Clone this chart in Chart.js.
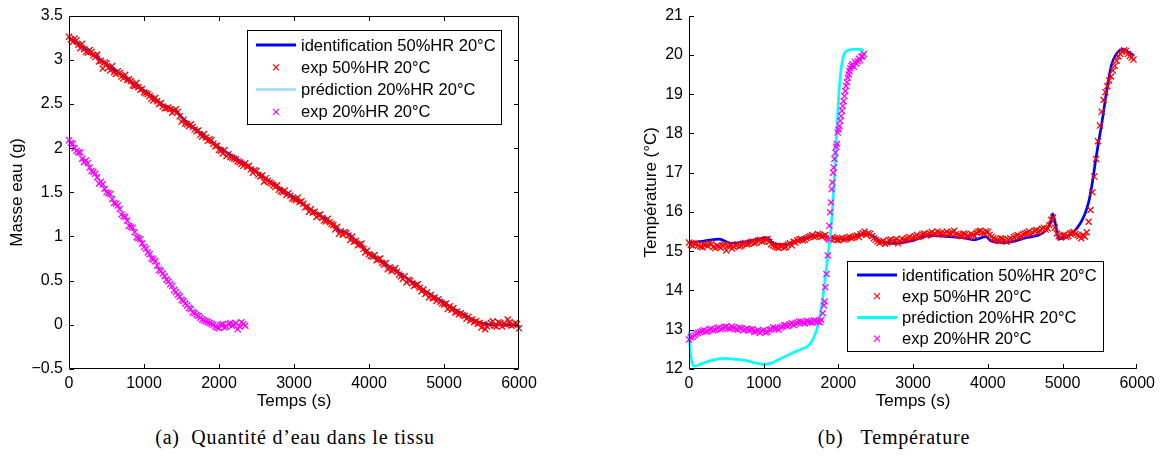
<!DOCTYPE html>
<html><head><meta charset="utf-8">
<script src="https://cdn.jsdelivr.net/npm/chart.js@4.4.1/dist/chart.umd.min.js"></script>
<style>
html,body{margin:0;padding:0;background:#fff;width:1160px;height:461px;overflow:hidden;position:relative}
canvas{position:absolute;top:0}
#c1{left:0}
#c2{left:600px}
.cap{position:absolute;font-family:"Liberation Serif","DejaVu Serif",serif;font-size:20px;letter-spacing:0.8px;color:#000;white-space:pre;transform:translate(-50%,-50%)}
</style></head><body>
<canvas id="c1" width="560" height="420"></canvas>
<canvas id="c2" width="560" height="420"></canvas>
<div class="cap" style="left:295px;top:437px">(a)  Quantité d’eau dans le tissu</div>
<div class="cap" style="left:894px;top:437px">(b)   Température</div>
<script>
// ---------- labels ----------
const legendLabels = ['identification 50%HR 20°C','exp 50%HR 20°C','prédiction 20%HR 20°C','exp 20%HR 20°C'];
const xTickValues = [0,1000,2000,3000,4000,5000,6000];
const xTickLabels = ['0','1000','2000','3000','4000','5000','6000'];
const leftYTickValues = [-0.5,0,0.5,1,1.5,2,2.5,3,3.5];
const leftYTickLabels = ['\u22120.5','0','0.5','1','1.5','2','2.5','3','3.5'];
const rightYTickValues = [12,13,14,15,16,17,18,19,20,21];
const rightYTickLabels = ['12','13','14','15','16','17','18','19','20','21'];

// ---------- sample times (s) ----------
const t50 = [0,50,100,150,200,250,300,350,400,450,500,550,600,650,700,750,800,850,900,950,
1000,1050,1100,1150,1200,1250,1300,1350,1400,1450,1500,1550,1600,1650,1700,1750,1800,1850,1900,1950,
2000,2050,2100,2150,2200,2250,2300,2350,2400,2450,2500,2550,2600,2650,2700,2750,2800,2850,2900,2950,
3000,3050,3100,3150,3200,3250,3300,3350,3400,3450,3500,3550,3600,3650,3700,3750,3800,3850,3900,3950,
4000,4050,4100,4150,4200,4250,4300,4350,4400,4450,4500,4550,4600,4650,4700,4750,4800,4850,4900,4950,
5000,5050,5100,5150,5200,5250,5300,5350,5400,5450,5500,5550,5600,5650,5700,5750,5800,5850,5900,5950,6000];
const t50mid = [25,75,125,175,225,275,325,375,425,475,525,575,625,675,725,775,825,875,925,975,
1025,1075,1125,1175,1225,1275,1325,1375,1425,1475,1525,1575,1625,1675,1725,1775,1825,1875,1925,1975,
2025,2075,2125,2175,2225,2275,2325,2375,2425,2475,2525,2575,2625,2675,2725,2775,2825,2875,2925,2975,
3025,3075,3125,3175,3225,3275,3325,3375,3425,3475,3525,3575,3625,3675,3725,3775,3825,3875,3925,3975,
4025,4075,4125,4175,4225,4275,4325,4375,4425,4475,4525,4575,4625,4675,4725,4775,4825,4875,4925,4975,
5025,5075,5125,5175,5225,5275,5325,5375,5425,5475,5525,5575,5625,5675,5725,5775,5825,5875,5925,5975];

// ---------- (a) water mass (g) ----------
const massIdT = [0,250,500,750,1000,1250,1450,1500,1750,2000,2250,2500,2750,3000,3250,3500,3600,3700,3750,4000,4250,4500,4750,5000,5250,5500,5650,5800,6000];
const massIdV = [3.25,3.10,2.95,2.80,2.65,2.49,2.40,2.35,2.17,2.01,1.87,1.73,1.58,1.44,1.29,1.15,1.07,1.04,1.01,0.81,0.67,0.53,0.38,0.25,0.12,0.02,0.00,0.00,0.00];
const massExp50V = [3.26,3.20,3.22,3.13,3.12,3.08,3.09,3.03,2.98,2.90,
2.96,2.88,2.86,2.87,2.81,2.83,2.78,2.71,2.74,2.66,
2.63,2.61,2.56,2.57,2.50,2.47,2.45,2.44,2.42,2.41,
2.30,2.28,2.25,2.24,2.19,2.15,2.16,2.08,2.09,2.02,
1.98,1.94,1.91,1.90,1.88,1.85,1.82,1.83,1.80,1.72,
1.74,1.68,1.62,1.63,1.60,1.56,1.53,1.50,1.47,1.46,
1.42,1.44,1.40,1.33,1.28,1.27,1.22,1.25,1.18,1.20,
1.14,1.08,1.03,1.02,1.04,0.96,0.94,0.90,0.92,0.82,
0.80,0.77,0.73,0.75,0.68,0.63,0.61,0.64,0.57,0.52,
0.48,0.50,0.44,0.46,0.38,0.35,0.31,0.30,0.27,0.26,
0.23,0.18,0.17,0.14,0.12,0.11,0.07,0.05,0.03,0.01,
-0.03,-0.05,0.00,0.04,-0.02,0.02,0.01,0.06,-0.01,0.02,
-0.04];
const massExp50MidV = [3.23,3.24,3.17,3.18,3.09,3.11,3.05,3.06,2.99,2.97,
2.91,2.93,2.84,2.85,2.79,2.77,2.76,2.70,2.69,2.67,
2.62,2.59,2.54,2.53,2.51,2.45,2.46,2.40,2.44,2.36,
2.32,2.27,2.27,2.21,2.20,2.13,2.12,2.10,2.05,2.03,
1.97,1.98,1.93,1.89,1.87,1.84,1.80,1.79,1.76,1.75,
1.70,1.69,1.66,1.61,1.58,1.58,1.51,1.52,1.49,1.43,
1.41,1.39,1.37,1.34,1.31,1.28,1.24,1.21,1.17,1.16,
1.13,1.11,1.06,1.05,1.01,1.00,0.95,0.91,0.86,0.84,
0.78,0.79,0.74,0.70,0.70,0.65,0.62,0.60,0.55,0.55,
0.51,0.47,0.45,0.42,0.40,0.37,0.34,0.31,0.29,0.24,
0.24,0.21,0.19,0.15,0.13,0.10,0.09,0.06,0.04,0.02,
0.01,-0.02,0.02,-0.01,0.03,-0.02,0.00,0.03,0.00,0.01];
const massPredT = [0,500,1000,1200,1400,1500,1600,1700,1800,1900,2000,2100,2350];
const massPredV = [2.08,1.53,0.92,0.69,0.46,0.35,0.25,0.16,0.09,0.04,0.01,0.00,0.00];
const massExp20V = [2.09,2.05,1.97,1.95,1.84,1.83,1.74,1.71,1.60,1.59,
1.50,1.48,1.38,1.35,1.25,1.22,1.12,1.10,0.99,0.97,
0.88,0.82,0.75,0.72,0.62,0.58,0.51,0.46,0.39,0.34,
0.28,0.24,0.19,0.14,0.11,0.08,0.05,0.03,0.01,-0.02,
-0.04,0.01,-0.02,0.02,0.00,-0.05,0.03,-0.01];
const massExp20MidV = [2.06,2.00,1.95,1.88,1.86,1.78,1.73,1.67,1.62,1.54,
1.49,1.42,1.37,1.31,1.23,1.18,1.11,1.05,0.98,0.92,
0.86,0.80,0.74,0.67,0.61,0.55,0.49,0.44,0.37,0.32,
0.27,0.22,0.18,0.13,0.10,0.06,0.04,0.02,0.00,-0.03,
0.00,-0.03,0.01,-0.01,0.02,-0.02,0.01];

// ---------- (b) temperature (°C) ----------
const tempIdT = [0,200,403,563,750,930,1044,1136,1296,1525,1708,1846,2075,2395,2579,2762,2991,3220,3495,3678,
3815,3975,4044,4227,4502,4777,4846,4869,4914,4951,5052,5143,5235,5300,5350,5400,5436,5480,5524,5591,
5658,5720,5814,5880,5947];
const tempIdV = [15.22,15.26,15.31,15.20,15.24,15.31,15.34,15.19,15.17,15.31,15.40,15.36,15.31,15.44,15.23,15.20,15.27,15.40,15.37,15.34,
15.29,15.37,15.26,15.22,15.34,15.53,15.78,15.95,15.61,15.31,15.36,15.48,15.70,15.95,16.25,16.75,17.22,17.75,18.23,19.08,
19.76,20.02,20.14,20.07,19.99];
const tempExp50FlatV = [15.22,15.14,15.20,15.12,15.17,15.13,15.18,15.08,15.12,15.15,
15.02,15.16,15.11,15.18,15.14,15.21,15.19,15.25,15.22,15.29,
15.26,15.31,15.18,15.12,15.08,15.14,15.11,15.20,15.24,15.27,
15.31,15.29,15.36,15.41,15.38,15.42,15.39,15.35,15.30,15.33,
15.28,15.34,15.31,15.37,15.35,15.40,15.43,15.50,15.46,15.38,
15.29,15.21,15.26,15.22,15.30,15.27,15.20,15.32,15.29,15.36,
15.34,15.41,15.38,15.45,15.42,15.49,15.44,15.47,15.42,15.50,
15.45,15.52,15.41,15.38,15.43,15.36,15.41,15.47,15.52,15.45,
15.49,15.37,15.30,15.26,15.31,15.24,15.33,15.36,15.41,15.38,
15.45,15.50,15.47,15.54,15.52,15.60,15.58,15.80,15.60,15.38,
15.40,15.36,15.45,15.49,15.41,15.33,15.37];
const tempExp50MidV = [15.16,15.19,15.15,15.10,15.16,15.20,15.11,15.14,15.09,15.17,
15.13,15.07,15.15,15.12,15.19,15.17,15.23,15.20,15.27,15.24,
15.30,15.24,15.15,15.10,15.13,15.09,15.17,15.15,15.22,15.30,
15.27,15.33,15.38,15.36,15.44,15.37,15.41,15.33,15.36,15.29,
15.32,15.29,15.35,15.33,15.38,15.36,15.46,15.41,15.44,15.33,
15.25,15.24,15.19,15.28,15.24,15.31,15.26,15.28,15.33,15.31,
15.38,15.36,15.43,15.40,15.46,15.43,15.50,15.45,15.46,15.44,
15.48,15.44,15.40,15.45,15.39,15.44,15.39,15.50,15.48,15.51,
15.42,15.33,15.28,15.33,15.27,15.29,15.30,15.39,15.36,15.43,
15.47,15.44,15.52,15.49,15.57,15.55,15.66,15.86,15.45,15.35,
15.42,15.39,15.47,15.44,15.38,15.41];
const tempExp50RiseT = [5325,5350,5375,5400,5425,5450,5475,5500,5525,5550,5575,5600,5625,5650,5675,5700,5725,5750,5775,5800,5825,5850,5875,5900,5925,5950];
const tempExp50RiseV = [15.48,15.75,16.05,16.50,16.90,17.35,17.80,18.20,18.55,18.85,19.05,19.20,19.35,19.45,19.60,19.72,19.85,19.96,20.02,20.08,20.12,20.10,20.02,19.97,19.93,19.88];
const tempPredT = [0,15,40,80,150,300,480,600,750,850,1000,1100,1200,1300,1400,1500,1600,1650,1700,1750,
1790,1830,1860,1890,1920,1950,1980,2010,2040,2070,2110,2200,2300,2340];
const tempPredV = [12.95,12.5,12.15,12.07,12.12,12.22,12.27,12.25,12.22,12.17,12.12,12.15,12.24,12.33,12.42,12.5,12.6,12.72,12.95,13.3,
13.8,14.4,14.9,15.35,16.1,17.0,18.1,19.1,19.7,19.98,20.1,20.14,20.14,20.1];
const tempExp20FlatV = [12.75,12.82,12.90,12.94,12.99,12.96,13.02,13.00,13.06,13.03,
13.08,13.02,13.05,13.00,13.04,13.01,12.98,13.02,12.96,12.92,
12.99,12.95,13.01,13.04,13.00,13.08,13.11,13.14,13.12,13.18,
13.20,13.16,13.21,13.18,13.22,13.19];
const tempExp20MidV = [12.80,12.86,12.92,12.97,12.95,13.01,12.98,13.04,13.01,13.07,
13.04,13.08,13.02,13.06,12.99,13.03,13.00,12.94,12.99,12.97,
12.93,13.00,13.06,13.03,13.06,13.12,13.09,13.17,13.15,13.21,
13.18,13.23,13.19,13.24,13.21];
const tempExp20RiseT = [1770,1790,1805,1815,1825,1840,1857,1870,1880,1889,1902,1910,1920,1929,1938,1947,1960,1970,1978,1991,
2002,2013,2025,2036,2047,2058,2069,2080,2091,2102,2114,2125,2136,2147,2160,2175,2191,2205,2220,2240,
2258,2275,2290,2310,2325,2340];
const tempExp20RiseV = [13.25,13.42,13.62,13.72,14.08,14.42,14.89,15.30,15.65,15.99,16.24,16.58,16.75,17.00,17.13,17.35,17.51,17.66,17.73,18.02,
18.10,18.19,18.32,18.44,18.58,18.70,18.82,18.95,19.08,19.21,19.30,19.42,19.50,19.59,19.66,19.72,19.76,19.70,19.82,19.78,
19.84,19.90,19.86,19.95,19.97,20.02];

// ---------- helpers ----------
const FONT = '"Liberation Sans", Arial, Helvetica, sans-serif';
Chart.defaults.font.family = FONT;
Chart.defaults.color = '#000';

function pts(ts, vs){ return vs.map((v,i)=>({x:ts[i], y:v})); }
function labelFor(vals, labs){ return v => { const i = vals.findIndex(u=>Math.abs(u-v)<1e-6); return i<0 ? '' : labs[i]; }; }

function lineDs(label, data, color, order){
  return {label, data, showLine:true, borderColor:color, backgroundColor:color, borderWidth:2.7,
    pointRadius:0, pointHoverRadius:0, cubicInterpolationMode:'monotone', order, clip:false};
}
function markDs(label, data, color, order){
  return {label, data, showLine:false, pointStyle:'crossRot', pointRadius:4.3, pointHoverRadius:4.3,
    pointBorderColor:color, pointBackgroundColor:color, pointBorderWidth:1.3, borderColor:color, order, clip:false};
}

const framePlugin = {
  id:'frame',
  afterDraw(chart, args, o){
    const {ctx, chartArea:a, scales:{x, y}} = chart;
    const L = 4.5;
    const l = Math.round(a.left)+0.5, r = Math.round(a.right)-0.5, t = Math.round(a.top)+0.5, b = Math.round(a.bottom)-0.5;
    ctx.save();
    ctx.strokeStyle = '#000'; ctx.lineWidth = 1;
    ctx.beginPath();
    ctx.moveTo(l, t); ctx.lineTo(l, b); ctx.lineTo(r, b);
    if (o.box){ ctx.lineTo(r, t); ctx.lineTo(l, t); }
    x.ticks.forEach(tk=>{
      const px = Math.round(x.getPixelForValue(tk.value)) + (tk.value===6000 ? -0.5 : 0.5);
      ctx.moveTo(px, b); ctx.lineTo(px, b-L);
      if (o.box){ ctx.moveTo(px, t); ctx.lineTo(px, t+L); }
    });
    y.ticks.forEach(tk=>{
      const py = Math.round(y.getPixelForValue(tk.value)) + 0.5;
      ctx.moveTo(l, py); ctx.lineTo(l+L, py);
      if (o.box){ ctx.moveTo(r, py); ctx.lineTo(r-L, py); }
    });
    ctx.stroke();
    // legend
    const g = o.legend;
    ctx.fillStyle = '#fff';
    ctx.fillRect(g.x, g.y, g.w, g.h);
    ctx.strokeRect(g.x+0.5, g.y+0.5, g.w, g.h);
    ctx.font = '16.5px ' + FONT;
    ctx.textBaseline = 'middle';
    ctx.textAlign = 'left';
    chart.data.datasets.forEach((ds, i)=>{
      const cy = g.y + g.row0 + i*g.dy;
      const col = ds.borderColor;
      ctx.strokeStyle = col;
      if (ds.showLine){
        ctx.lineWidth = 3;
        ctx.beginPath(); ctx.moveTo(g.x+g.s0, cy); ctx.lineTo(g.x+g.s1, cy); ctx.stroke();
      } else {
        const mx = g.x + (g.s0+g.s1)/2, h = 3;
        ctx.lineWidth = 1.2;
        ctx.beginPath();
        ctx.moveTo(mx-h, cy-h); ctx.lineTo(mx+h, cy+h);
        ctx.moveTo(mx-h, cy+h); ctx.lineTo(mx+h, cy-h);
        ctx.stroke();
      }
      ctx.fillStyle = '#000';
      ctx.fillText(ds.label, g.x+g.tx, cy+1);
    });
    ctx.restore();
  }
};

function makeChart(id, datasets, yMin, yMax, yStep, yVals, yLabs, yTitle, yAxisW, yTitlePad, padRight, frameOpts){
  return new Chart(document.getElementById(id), {
    type:'scatter',
    data:{datasets},
    options:{
      responsive:false, animation:false, devicePixelRatio:1,
      events:[],
      layout:{padding:{top:14, right:padRight, left:0, bottom:0}},
      plugins:{legend:{display:false}, tooltip:{enabled:false}, frame:frameOpts},
      scales:{
        x:{type:'linear', position:'bottom', min:0, max:6000,
          ticks:{stepSize:1000, padding:5, autoSkip:false, maxRotation:0, font:{size:16}, color:'#000',
            callback:labelFor(xTickValues, xTickLabels)},
          grid:{display:false, drawTicks:false}, border:{display:false},
          title:{display:true, text:'Temps (s)', color:'#000', font:{size:17}, padding:{top:0, bottom:8}},
          afterFit(s){ s.height = 51; }
        },
        y:{type:'linear', position:'left', min:yMin, max:yMax,
          ticks:{stepSize:yStep, padding:6, autoSkip:false, font:{size:16}, color:'#000',
            callback:labelFor(yVals, yLabs)},
          grid:{display:false, drawTicks:false}, border:{display:false},
          title:{display:true, text:yTitle, color:'#000', font:{size:17}, padding:{top:yTitlePad, bottom:0}},
          afterFit(s){ s.width = yAxisW; }
        }
      }
    },
    plugins:[framePlugin]
  });
}

makeChart('c1', [
  lineDs(legendLabels[0], pts(massIdT, massIdV), '#0000ff', 4),
  markDs(legendLabels[1], pts(t50, massExp50V).concat(pts(t50mid, massExp50MidV)), '#ff0000', 3),
  lineDs(legendLabels[2], pts(massPredT, massPredV), '#a4e4f6', 2),
  markDs(legendLabels[3], pts(t50, massExp20V).concat(pts(t50mid, massExp20MidV)), '#ff00ff', 1)
], -0.5, 3.5, 0.5, leftYTickValues, leftYTickLabels, 'Masse eau (g)', 69, 6.8, 41,
  {box:true, legend:{x:247, y:30, w:254, h:94, row0:15, dy:22.3, s0:9, s1:49, tx:54}});

makeChart('c2', [
  lineDs(legendLabels[0], pts(tempIdT, tempIdV), '#0000ff', 4),
  markDs(legendLabels[1], pts(t50, tempExp50FlatV).concat(pts(t50mid, tempExp50MidV), pts(tempExp50RiseT, tempExp50RiseV)), '#ff0000', 3),
  lineDs(legendLabels[2], pts(tempPredT, tempPredV), '#00ffff', 2),
  markDs(legendLabels[3], pts(t50, tempExp20FlatV).concat(pts(t50mid, tempExp20MidV), pts(tempExp20RiseT, tempExp20RiseV)), '#ff00ff', 1)
], 12, 21, 1, rightYTickValues, rightYTickLabels, 'Température (°C)', 89, 40.8, 21,
  {box:false, legend:{x:247, y:261, w:256, h:90, row0:14, dy:21.2, s0:10, s1:50, tx:55}});
</script>
</body></html>
